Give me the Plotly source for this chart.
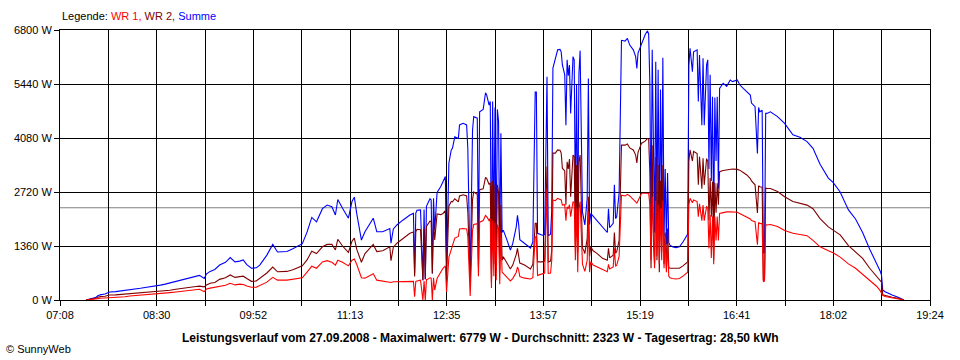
import plotly.graph_objects as go

# ---------------- data ----------------
times = ["07:30","07:33","07:38","07:40","07:42","07:46","07:50","07:55","07:59","08:03",
 "08:07","08:12","08:16","08:20","08:24","08:29","08:33","08:37","08:41","08:46",
 "08:50","08:54","08:58","09:03","09:06","09:10","09:12","09:15","09:19","09:23",
 "09:28","09:32","09:36","09:40","09:43","09:46","09:50","09:54","09:57","10:03",
 "10:08","10:12","10:20","10:25","10:33","10:37","10:41","10:45","10:50","10:54",
 "10:58","11:01","11:03","11:07","11:12","11:15","11:17","11:19","11:23","11:26",
 "11:33","11:36","11:41","11:47","11:48","11:50","11:53","11:58","12:04","12:07",
 "12:08","12:09","12:10","12:13","12:15","12:16","12:17","12:18","12:19","12:21",
 "12:22","12:23","12:24","12:25","12:27","12:30","12:32","12:34","12:35","12:37",
 "12:39","12:40","12:42","12:45","12:46","12:49","12:52","12:53","12:55","12:57",
 "12:58","13:01","13:02","13:03","13:06","13:08","13:09","13:11","13:12","13:13",
 "13:14","13:15","13:16","13:17","13:18","13:19","13:20","13:21","13:22","13:23",
 "13:26","13:29","13:31","13:34","13:35","13:36","13:37","13:41","13:46","13:48",
 "13:50","13:51","13:52","13:56","13:58","14:00","14:01","14:03","14:04","14:05",
 "14:07","14:09","14:11","14:12","14:13","14:15","14:16","14:17","14:18","14:19",
 "14:20","14:22","14:23","14:24","14:25","14:26","14:27","14:28","14:30","14:31",
 "14:32","14:34","14:35","14:36","14:37","14:39","14:42","14:47","14:51","14:52",
 "14:53","14:56","14:57","14:58","14:59","15:01","15:02","15:03","15:06","15:08",
 "15:10","15:13","15:15","15:16","15:17","15:20","15:23","15:25","15:26","15:27",
 "15:28","15:29","15:30","15:31","15:32","15:33","15:34","15:35","15:36","15:37",
 "15:38","15:39","15:40","15:41","15:42","15:43","15:44","15:46","15:49","15:52",
 "15:55","15:58","15:59","16:00","16:01","16:03","16:04","16:07","16:08","16:09",
 "16:11","16:12","16:13","16:15","16:16","16:17","16:18","16:19","16:20","16:21",
 "16:22","16:23","16:24","16:25","16:26","16:29","16:32","16:35","16:37","16:41",
 "16:43","16:46","16:49","16:52","16:53","16:56","16:58","16:59","17:00","17:02",
 "17:03","17:04","17:05","17:06","17:09","17:15","17:21","17:28","17:34","17:40",
 "17:45","17:51","17:58","18:02","18:08","18:15","18:21","18:27","18:33","18:39",
 "18:42","18:43","18:44","18:46","18:48","18:52","18:57","19:00","19:02"]

wr1 = [0,5,20,35,45,50,65,80,85,80,
 100,110,120,130,140,150,160,175,185,200,
 215,230,240,260,270,210,280,300,320,340,
 370,420,380,400,390,350,320,320,370,450,
 570,500,500,530,560,700,850,800,960,990,
 950,880,1000,950,860,1000,1030,900,560,550,
 660,500,480,460,440,460,460,460,460,470,
 80,470,480,500,0,480,0,510,520,560,
 550,0,560,250,540,700,800,860,200,1080,
 1300,1350,1560,1600,1790,1800,1790,1600,100,1750,
 1900,1920,600,1960,2000,2130,2100,2000,2050,300,
 2000,600,1950,500,1900,1800,400,1700,700,670,
 580,480,540,700,830,760,590,550,530,560,
 1590,1590,620,670,680,2810,670,680,1000,2520,
 2500,2560,2540,2520,2390,2400,2000,2350,2300,2400,
 2100,2480,2450,1000,2300,700,2300,2480,900,800,
 720,1000,2220,700,970,880,840,760,710,900,
 780,830,1300,850,880,1100,1980,2640,2620,2660,
 2620,2520,2480,2440,2500,2690,2690,2700,2690,2400,
 1000,2600,1500,800,2500,1100,2400,900,2300,1000,
 2500,800,1600,700,1400,600,560,540,530,540,
 600,680,700,2400,2560,2450,2520,2480,2100,2420,
 2000,2390,2000,2350,2330,1300,2140,1060,2100,900,
 2100,1500,2100,1500,2180,2200,2220,2220,2220,2210,
 2180,2140,2100,2040,2000,1970,1390,1950,1930,1920,
 460,480,1900,1890,1900,1850,1750,1680,1650,1620,
 1500,1340,1240,1190,1080,910,800,650,500,340,
 230,170,120,90,80,55,40,15,0]

wr2 = [0,15,40,70,85,95,125,130,140,150,
 155,165,175,185,190,200,215,230,245,270,
 290,300,320,340,350,330,380,420,440,520,
 560,630,570,580,600,540,470,480,540,680,
 830,710,720,760,860,1010,1230,1170,1340,1400,
 1400,1260,1530,1360,1200,1480,1560,1280,950,1170,
 1400,1220,1240,1340,990,1330,1430,1550,1680,1710,
 590,1720,1780,1770,500,1800,520,1850,1900,1990,
 1970,670,2000,1510,2170,2150,2180,2250,560,2370,
 2480,2470,2550,2470,2620,2650,2620,2220,480,2530,
 2720,2660,840,2780,2800,3090,3060,2910,2950,450,
 3000,900,2900,750,2900,2700,750,2400,1000,1090,
 940,780,880,1150,1300,1150,930,880,780,900,
 1930,1930,960,960,980,3360,960,980,1250,3700,
 3700,3780,3770,3700,3320,3250,2400,3480,3300,3550,
 2600,3650,3620,1340,3400,1200,3500,3650,1300,1260,
 1170,1550,2600,1100,1340,1240,1180,1050,1000,1300,
 1060,1130,1700,1180,1220,1500,3230,3900,3900,3930,
 3830,3780,3650,3450,3720,3950,4000,4070,4050,3200,
 800,3900,1500,900,3600,1000,3400,700,3000,1200,
 3400,900,1700,800,1800,820,800,800,790,800,
 860,930,960,3500,3780,3500,3740,3690,2900,3610,
 2800,3570,2900,3560,3500,2000,3070,2100,2980,1000,
 2950,2200,2940,2400,3230,3260,3270,3290,3300,3290,
 3270,3210,3150,3060,3000,2900,2190,2880,2850,2840,
 500,530,2820,2810,2810,2730,2600,2480,2440,2390,
 2300,2050,1840,1760,1640,1370,1220,1050,800,590,
 510,450,130,110,95,70,45,18,0]

summe = [0,20,60,105,130,150,200,210,225,230,
 255,275,295,315,330,350,375,400,430,470,
 500,530,560,590,620,540,660,720,770,880,
 950,1070,960,980,1010,890,800,810,880,1130,
 1400,1210,1220,1290,1420,1710,2080,1970,2300,2390,
 2350,2140,2530,2310,2060,2480,2590,2180,1510,1720,
 2060,1720,1720,1800,1430,1790,1890,2010,2140,2180,
 670,2190,2260,2270,500,2280,520,2360,2420,2550,
 2520,670,2560,1760,2710,2850,2980,3110,760,3450,
 3780,3820,4110,4070,4410,4450,4410,3820,580,4280,
 4620,4580,1440,4740,4800,5220,5160,4910,5000,750,
 5000,1500,4850,1250,4800,4500,1150,4200,1700,1760,
 1520,1260,1420,1850,2130,1910,1520,1430,1310,1460,
 5240,5240,1680,1630,1650,5620,1620,1660,2250,5840,
 6090,6300,6310,6250,5920,5670,4400,6050,5650,5920,
 4700,6130,6050,2320,5420,1820,5700,6280,2220,2060,
 1890,2560,5580,1900,2180,2110,2010,1840,1700,2300,
 1820,1930,2900,2050,2100,2700,5420,6540,6520,6590,
 6420,6300,6130,5830,6220,6470,6680,6779,6700,5450,
 1800,6300,3000,1700,6000,2200,5800,1500,5300,2300,
 6100,1600,3300,1400,3200,1450,1380,1340,1320,1340,
 1460,1600,1660,5900,6340,5750,6250,6300,5000,6170,
 4400,6090,4400,5920,6050,3300,5670,3000,5120,1900,
 5100,3500,5120,2800,5330,5460,5380,5540,5500,5540,
 5420,5330,5250,5160,4960,4870,3690,4850,4740,4780,
 1180,1200,4700,4700,4740,4620,4450,4160,4100,3990,
 3820,3420,3070,2960,2720,2270,2040,1700,1280,910,
 720,620,250,210,180,125,70,30,0]

x_tick_labels = ["07:08", "08:30", "09:52", "11:13", "12:35",
                 "13:57", "15:19", "16:41", "18:02", "19:24"]
y_tick_values = [0, 1360, 2720, 4080, 5440, 6800]
average_w = 2323

legend_text = ('Legende: <span style="color:#FF0000">WR 1,</span> '
               '<span style="color:#800000">WR 2,</span> '
               '<span style="color:#0000FF">Summe</span>')
title_text = ("Leistungsverlauf vom 27.09.2008 - Maximalwert: 6779 W - "
              "Durchschnitt: 2323 W - Tagesertrag: 28,50 kWh")
copyright_text = "© SunnyWeb"

# ---------------- figure ----------------
def to_min(t):
    h, m = t.split(":")
    return int(h) * 60 + int(m)

xm = [to_min(t) for t in times]
x0 = to_min(x_tick_labels[0])
x1 = to_min(x_tick_labels[-1])
n_div = 2 * (len(x_tick_labels) - 1)
grid_vals = [x0 + i * (x1 - x0) / n_div for i in range(n_div + 1)]
grid_text = [x_tick_labels[i // 2] if i % 2 == 0 else "" for i in range(n_div + 1)]

FONT = "Arial, Liberation Sans, sans-serif"

fig = go.Figure()
fig.add_trace(go.Scatter(x=xm, y=summe, mode="lines", name="Summe",
                         line=dict(color="#0000FF", width=1.1)))
fig.add_trace(go.Scatter(x=xm, y=wr2, mode="lines", name="WR 2",
                         line=dict(color="#800000", width=1.1)))
fig.add_trace(go.Scatter(x=xm, y=wr1, mode="lines", name="WR 1",
                         line=dict(color="#FF0000", width=1.1)))

axis_common = dict(showgrid=True, gridcolor="black", gridwidth=1,
                   ticks="outside", ticklen=5, tickcolor="black", tickwidth=1,
                   showline=True, linecolor="black", linewidth=1, mirror=True,
                   zeroline=False, automargin=False,
                   tickfont=dict(family=FONT, size=11, color="black"))

fig.update_layout(
    width=960, height=360,
    margin=dict(l=60, r=30, t=30, b=60, autoexpand=False),
    paper_bgcolor="white", plot_bgcolor="white",
    showlegend=False,
    font=dict(family=FONT, size=11, color="black"),
    xaxis=dict(range=[x0, x1], tickmode="array", tickvals=grid_vals,
               ticktext=grid_text, **axis_common),
    yaxis=dict(range=[0, y_tick_values[-1]], tickmode="array",
               tickvals=y_tick_values,
               ticktext=[f"{v} W" for v in y_tick_values], **axis_common),
    shapes=[dict(type="line", xref="paper", x0=0, x1=1, yref="y",
                 y0=average_w, y1=average_w, layer="below",
                 line=dict(color="#808080", width=1))],
    annotations=[
        dict(text=legend_text, xref="paper", yref="paper", x=0, y=1 + 14 / 270,
             xanchor="left", yanchor="middle", showarrow=False,
             font=dict(family=FONT, size=11, color="black")),
        dict(text="<b>" + title_text + "</b>", xref="paper", yref="paper",
             x=(480 - 60) / 870, y=-38 / 270, xanchor="center", yanchor="middle",
             showarrow=False, font=dict(family=FONT, size=12, color="black")),
        dict(text=copyright_text, xref="paper", yref="paper",
             x=(4 - 60) / 870, y=-49 / 270, xanchor="left", yanchor="middle",
             showarrow=False, font=dict(family=FONT, size=11, color="black")),
    ],
)

fig.write_html("out.html",
               config={"displayModeBar": False},
               post_script="document.body.style.margin='0px';"
                           "document.body.style.padding='0px';")
